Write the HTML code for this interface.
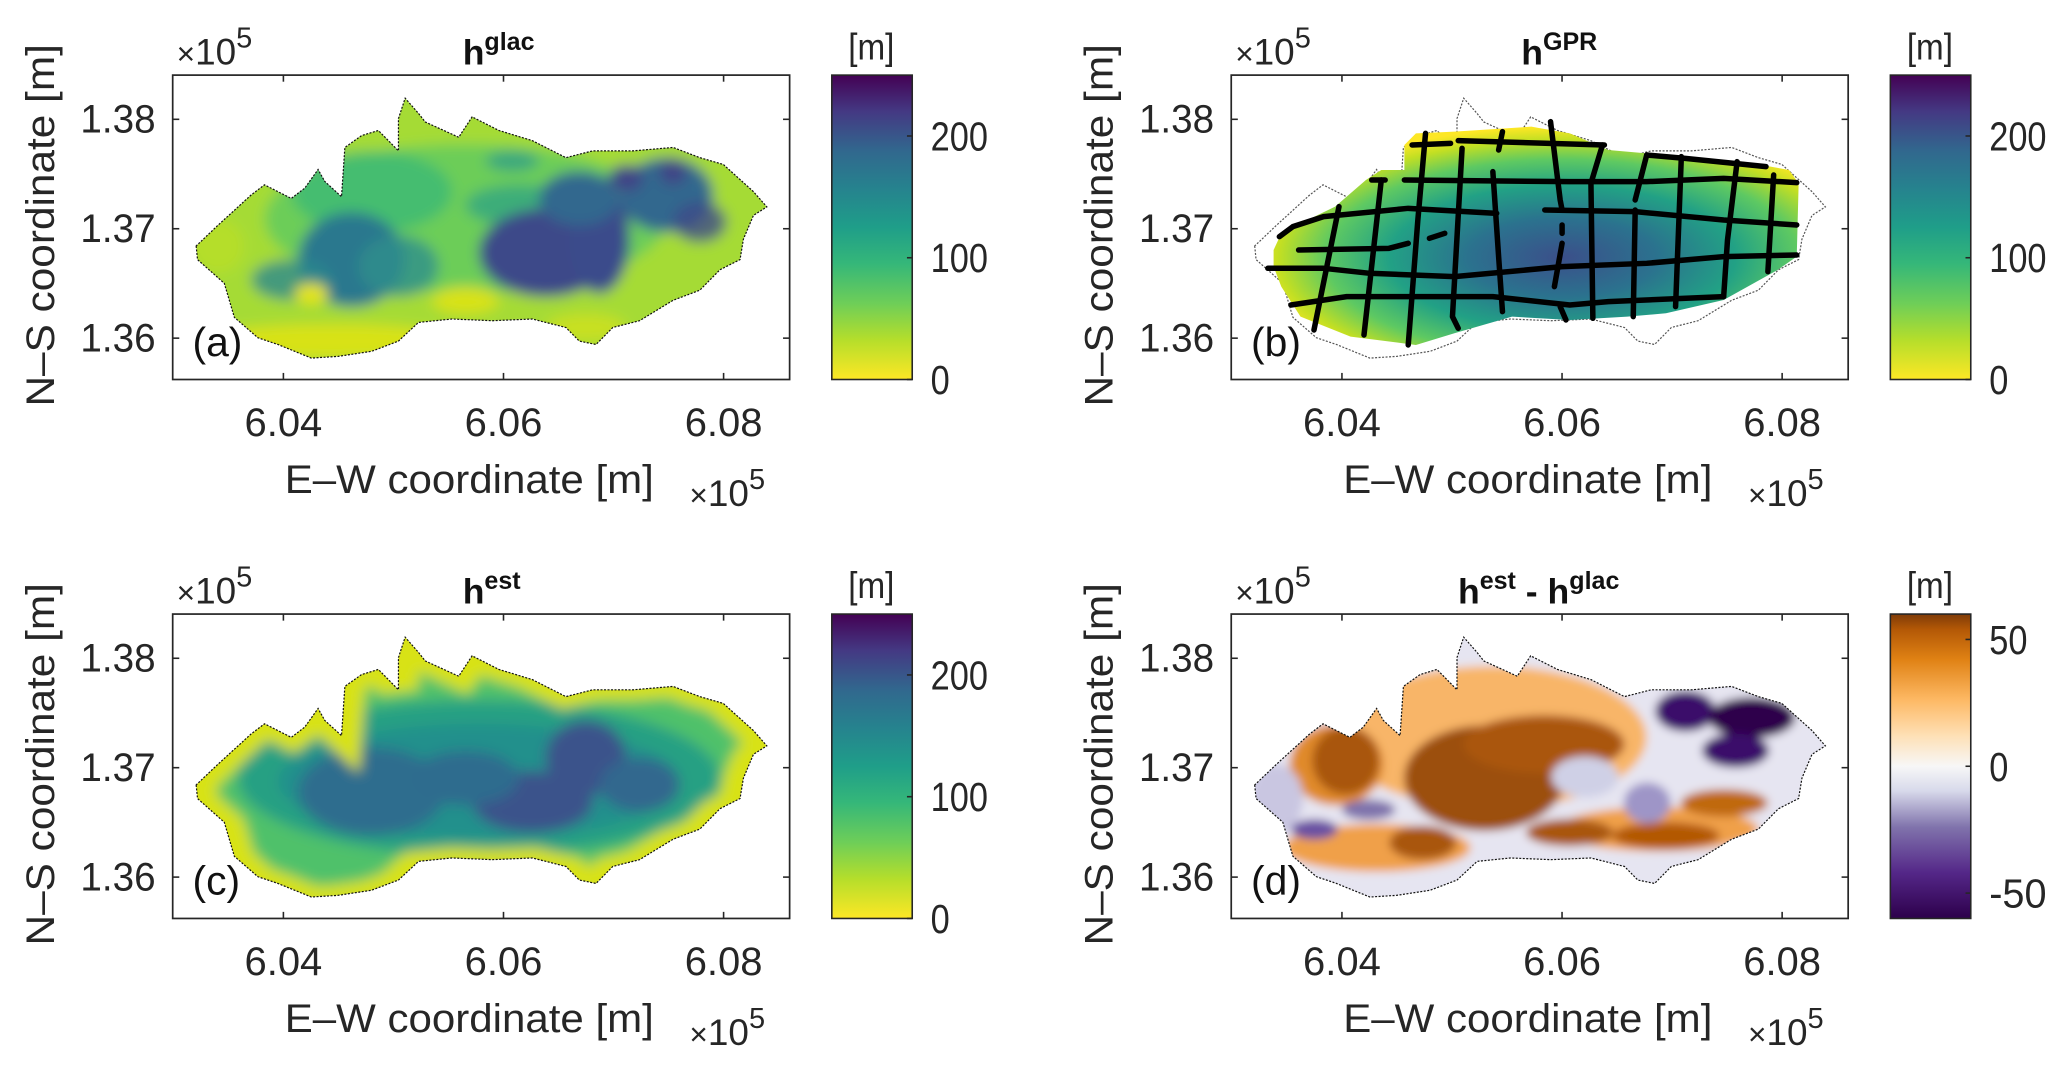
<!DOCTYPE html>
<html><head><meta charset="utf-8"><style>
html,body{margin:0;padding:0;background:#fff;}
svg{display:block;font-family:"Liberation Sans",Arial,sans-serif;}
</style></head><body>
<svg id="fig" width="2067" height="1070" viewBox="0 0 1568 812" preserveAspectRatio="none" xmlns="http://www.w3.org/2000/svg">
<defs>
<linearGradient id="viridis" x1="0" y1="1" x2="0" y2="0">
<stop offset="0" stop-color="#fde725"/><stop offset="0.13" stop-color="#b5de2b"/><stop offset="0.25" stop-color="#6ece58"/><stop offset="0.38" stop-color="#35b779"/><stop offset="0.5" stop-color="#1f9e89"/><stop offset="0.63" stop-color="#26828e"/><stop offset="0.75" stop-color="#31688e"/><stop offset="0.88" stop-color="#443983"/><stop offset="1" stop-color="#440154"/>
</linearGradient>
<linearGradient id="puor" x1="0" y1="1" x2="0" y2="0">
<stop offset="0" stop-color="#2d004b"/><stop offset="0.15" stop-color="#542788"/><stop offset="0.3" stop-color="#8073ac"/><stop offset="0.42" stop-color="#d8daeb"/><stop offset="0.5" stop-color="#f7f7f7"/><stop offset="0.6" stop-color="#fee0b6"/><stop offset="0.72" stop-color="#fdb863"/><stop offset="0.85" stop-color="#e08214"/><stop offset="0.95" stop-color="#b35806"/><stop offset="1" stop-color="#7f3b08"/>
</linearGradient>
<radialGradient id="gprgrad" cx="0.55" cy="0.6" r="0.6">
<stop offset="0" stop-color="#3b4f8a"/><stop offset="0.3" stop-color="#2b728e"/><stop offset="0.55" stop-color="#22a185"/><stop offset="0.75" stop-color="#5ec962"/><stop offset="0.9" stop-color="#c2df23"/><stop offset="1" stop-color="#fde725"/>
</radialGradient>
<filter id="blur" x="-10%" y="-10%" width="120%" height="120%"><feGaussianBlur stdDeviation="5"/></filter>
<filter id="blur2" x="-10%" y="-10%" width="120%" height="120%"><feGaussianBlur stdDeviation="3.5"/></filter>
</defs>
<g id="root"></g>
</svg>
<script>
// axis data
const xTicks = [6.04, 6.06, 6.08];
const xTickLabels = ["6.04", "6.06", "6.08"];
const yTicks = [1.36, 1.37, 1.38];
const yTickLabels = ["1.36", "1.37", "1.38"];
const xLim = [6.02994, 6.0860];
const yLim = [1.35622, 1.38404];
const cbViridisTicks = [0, 100, 200];
const cbViridisLim = [0, 250];
const cbDiffTicks = [-50, 0, 50];
const cbDiffLim = [-60, 60];
const panelTitles = [["h","glac"],["h","GPR"],["h","est"],["h","est - h","glac"]];
const panelLetters = ["(a)","(b)","(c)","(d)"];

const NS = "http://www.w3.org/2000/svg";
const root = document.getElementById("root");
function mk(tag, attrs, parent){ const e=document.createElementNS(NS,tag); for(const k in attrs) e.setAttribute(k,attrs[k]); (parent||root).appendChild(e); return e; }

const FX0=131, FX1=599, FY0=57, FY1=288;
const DX=803, DY=409;

// glacier outline in trace coordinates
const outlinePts = [[298,720],[300,760],[340,830],[355,930],[390,990],[420,1010],[470,1050],[510,1045],[560,1030],[600,1000],[630,945],[680,935],[740,940],[800,935],[850,960],[870,1000],[895,1010],[920,960],[960,940],[1010,880],[1050,850],[1080,790],[1110,760],[1115,700],[1130,630],[1150,605],[1130,560],[1085,480],[1050,460],[1010,430],[950,440],[890,440],[850,460],[800,410],[750,380],[710,340],[690,400],[640,355],[630,330],[610,285],[600,345],[600,440],[570,380],[545,395],[520,430],[515,575],[490,530],[480,495],[460,550],[440,580],[400,540],[380,570],[330,660]];
const outlineD = "M"+outlinePts.map(p=>p.join(",")).join(" L")+" Z";
const TR = "translate(-2.6,1.05) scale(0.5081,0.2578)";

function txt(parent, attrs, content, name){
  const t = mk("text", attrs, parent);
  t.innerHTML = content;
  
  
  return t;
}

function panel(i){
  const ox = (i%2)*DX, oy = Math.floor(i/2)*DY;
  const sx = v => ox + FX0 + (v-xLim[0])/(xLim[1]-xLim[0])*(FX1-FX0);
  const sy = v => oy + FY1 - (v-yLim[0])/(yLim[1]-yLim[0])*(FY1-FY0);
  const g = mk("g",{});
  
  

  const cp = mk("clipPath",{id:"clip"+i}, g);
  mk("path",{d:outlineD, transform:`translate(${ox},${oy}) ${TR}`}, cp);

  const map = mk("g",{"clip-path":`url(#clip${i})`}, g);
  
  
  const inner = mk("g",{filter: i==1?"":(i==3?"url(#blur2)":"url(#blur)")}, map);
  const t = mk("g",{transform:`translate(${ox},${oy}) ${TR}`}, inner);
  const ell=(cx,cy,rx,ry,fill,op)=>mk("ellipse",{cx,cy,rx,ry,fill,"fill-opacity":op==null?1:op},t);
  if(i==0){
    mk("rect",{x:250,y:250,width:950,height:850,fill:"#a5db36"},t);
    ell(700,640,300,220,"#5ec962",0.8);
    ell(560,560,120,120,"#35b779",0.7);
    ell(530,760,80,140,"#2a788e");
    ell(440,820,60,60,"#2c8a8d",0.8);
    ell(600,780,60,90,"#2f8f8c",0.8);
    ell(780,600,80,60,"#2aa087",0.7);
    ell(820,740,100,130,"#3e4a89");
    ell(900,700,45,160,"#3b4c8b");
    ell(870,580,60,80,"#31688e");
    ell(1000,570,70,110,"#31688e");
    ell(940,520,25,40,"#414487");
    ell(1010,500,20,40,"#414487");
    ell(770,470,40,30,"#2f9e88",0.8);
    ell(1050,650,40,60,"#3e4a89",0.8);
    ell(700,880,50,40,"#d8e219");
    ell(470,860,25,30,"#e5e419");
    ell(500,1000,200,50,"#d8e219");
    ell(880,960,60,40,"#c8e020");
    ell(330,720,40,80,"#b5de2b");
  } else if(i==1){
    mk("path",{d:outlineD, fill:"none"},t);
  } else if(i==2){
    mk("rect",{x:250,y:250,width:950,height:850,fill:"#4fc16b"},t);
    ell(720,700,360,230,"#27a083");
    ell(720,710,300,170,"#22908c");
    ell(560,740,110,130,"#2e6d8e");
    ell(880,640,60,110,"#3b528b");
    ell(800,770,90,90,"#3b528b");
    ell(700,700,80,80,"#2f6c8e");
    ell(960,720,60,80,"#31688e");
    mk("path",{d:outlineD, fill:"none", stroke:"#d8e219", "stroke-width":60},t);
  } else {
    mk("rect",{x:250,y:250,width:950,height:850,fill:"#e6e5f1"},t);
    ell(653,580,230,210,"#f8b567");
    ell(480,905,140,70,"#f0a048");
    ell(900,850,150,65,"#f0a048");
    ell(420,660,70,120,"#e08a2a");
    ell(641,700,120,155,"#9c4f0a");
    ell(730,600,120,85,"#aa560b");
    ell(434,648,50,100,"#a9560b");
    ell(549,890,50,50,"#a9560b");
    ell(768,860,65,40,"#a9560b");
    ell(912,870,80,40,"#b35806");
    ell(999,773,65,40,"#c0690f");
    ell(791,696,50,60,"#cfd0e6");
    ell(884,773,35,60,"#9e95c7");
    ell(387,851,35,30,"#6a51a3");
    ell(468,793,40,30,"#8073ac");
    ell(941,503,45,60,"#3a0f6b");
    ell(1040,522,65,60,"#2d004b");
    ell(1016,619,50,50,"#3a0f6b");
    ell(330,760,40,100,"#c9c6e1");
  }

  const ol = mk("path",{d:outlineD, fill:"none", stroke: i==1?"#555":"#111", "stroke-width":1.2, "stroke-dasharray":"2,1.5", "vector-effect":"non-scaling-stroke", transform:`translate(${ox},${oy}) ${TR}`}, g);
  
  

  if(i==1) gpr(g, ox, oy);

  const fr = mk("rect",{x:ox+FX0,y:oy+FY0,width:FX1-FX0,height:FY1-FY0,fill:"none",stroke:"#262626","stroke-width":1.3},g);
  
  
  xTicks.forEach((v,k)=>{
    const x=sx(v);
    mk("line",{x1:x,y1:oy+FY1,x2:x,y2:oy+FY1-5,stroke:"#262626","stroke-width":1.2},g);
    mk("line",{x1:x,y1:oy+FY0,x2:x,y2:oy+FY0+5,stroke:"#262626","stroke-width":1.2},g);
    txt(g,{x:x,y:oy+331,"text-anchor":"middle","font-size":30,fill:"#262626",textLength:59,lengthAdjust:"spacingAndGlyphs"},xTickLabels[k],'x-tick-label');
  });
  yTicks.forEach((v,k)=>{
    const y=sy(v);
    mk("line",{x1:ox+FX0,y1:y,x2:ox+FX0+5,y2:y,stroke:"#262626","stroke-width":1.2},g);
    mk("line",{x1:ox+FX1,y1:y,x2:ox+FX1-5,y2:y,stroke:"#262626","stroke-width":1.2},g);
    txt(g,{x:ox+61,y:y+10,"font-size":30,fill:"#262626",textLength:57,lengthAdjust:"spacingAndGlyphs"},yTickLabels[k],'y-tick-label');
  });
  txt(g,{x:ox+134,y:oy+49,"font-size":28,fill:"#262626"},'<tspan font-size="24">×</tspan>10<tspan dy="-13" font-size="22">5</tspan>','y-exponent-label');
  txt(g,{x:ox+523,y:oy+384,"font-size":28,fill:"#262626"},'<tspan font-size="24">×</tspan>10<tspan dy="-13" font-size="22">5</tspan>','x-exponent-label');
  txt(g,{x:ox+356,y:oy+374,"text-anchor":"middle","font-size":30,fill:"#262626",textLength:280,lengthAdjust:"spacingAndGlyphs"},"E–W coordinate [m]",'x-axis-title');
  txt(g,{x:0,y:0,"text-anchor":"middle","font-size":30,fill:"#262626",textLength:275,lengthAdjust:"spacingAndGlyphs",transform:`translate(${ox+41},${oy+171}) rotate(-90)`},"N–S coordinate [m]",'y-axis-title');
  const tt = panelTitles[i];
  let html = tt[0]+'<tspan dy="-11" font-size="19">'+tt[1]+'</tspan>';
  if(tt.length>2) html = tt[0]+'<tspan dy="-11" font-size="19">est</tspan><tspan dy="11"> - h</tspan><tspan dy="-11" font-size="19">'+tt[2]+'</tspan>';
  txt(g,{x:ox+(i==3?303:351),y:oy+49,"font-size":27,"font-weight":"bold",fill:"#111"},html,'panel-title');
  txt(g,{x:ox+146,y:oy+270,"font-size":31,fill:"#111"},panelLetters[i],'panel-letter');

  const diff = i==3;
  const cx0=ox+631, cw=61;
  const lim = diff?cbDiffLim:cbViridisLim, ticks = diff?cbDiffTicks:cbViridisTicks;
  const cy = v => oy + FY1 - (v-lim[0])/(lim[1]-lim[0])*(FY1-FY0);
  const cb = mk("rect",{x:cx0,y:oy+FY0,width:cw,height:FY1-FY0,fill:diff?"url(#puor)":"url(#viridis)",stroke:"#262626","stroke-width":1.2},g);
  
  
  ticks.forEach(v=>{
    const y=cy(v);
    mk("line",{x1:cx0+cw,y1:y,x2:cx0+cw-4,y2:y,stroke:"#262626","stroke-width":1.2},g);
    const s = String(v);
    const w = s.length*14.5;
    txt(g,{x:cx0+75,y:y+11,"font-size":31,fill:"#262626",textLength:w,lengthAdjust:"spacingAndGlyphs"},s,'colorbar-tick-label');
  });
  txt(g,{x:cx0+30,y:oy+45,"text-anchor":"middle","font-size":28,fill:"#262626",textLength:35,lengthAdjust:"spacingAndGlyphs"},"[m]",'colorbar-unit');
}

// GPR survey profiles (trace coordinates)
const gprArea = [[130,450],[150,400],[200,370],[290,320],[370,240],[410,210],[470,210],[470,135],[500,100],[600,95],[800,80],[900,100],[1000,150],[1100,160],[1350,185],[1470,210],[1495,250],[1490,470],[1440,510],[1300,600],[1150,640],[1050,650],[900,660],[750,650],[600,700],[500,735],[330,710],[200,650],[150,560],[130,500]];
const gprLines = [
 [[490,135],[590,130]],[[610,122],[990,135]],
 [[385,240],[420,240]],[[470,240],[900,245],[1100,245],[1300,235],[1490,248]],
 [[1100,165],[1200,175],[1410,200]],
 [[145,410],[180,380],[260,350],[480,325],[710,340]],[[835,330],[1070,335],[1300,360],[1490,375]],
 [[195,450],[430,445],[480,430]],[[535,415],[575,400]],
 [[115,505],[260,505],[380,520],[600,530],[880,500],[1100,490],[1300,470],[1490,465]],
 [[175,615],[320,590],[700,590],[900,615],[1000,605],[1300,590]],
 [[300,320],[235,690]],[[410,240],[365,705]],[[525,100],[505,360],[480,735]],
 [[620,145],[595,650],[610,685]],[[725,95],[715,150]],[[700,215],[715,470],[725,635]],
 [[850,65],[875,300],[880,330]],[[880,375],[880,400]],[[880,430],[860,560]],[[875,620],[890,660]],
 [[985,135],[955,250],[960,655]],[[1100,165],[1070,300]],[[1070,330],[1065,650]],
 [[1190,170],[1180,470],[1175,620]],[[1335,185],[1310,420],[1300,590]],[[1430,225],[1415,515]]
];
function gpr(g, ox, oy){
  const t = mk("g",{transform:"translate(928.2,75.9) scale(0.2918,0.2529)"}, g);
  const a = mk("path",{d:"M"+gprArea.map(p=>p.join(",")).join(" L")+" Z", fill:"url(#gprgrad)"}, t);
  
  
  gprLines.forEach(l=>{
    const p = mk("polyline",{points:l.map(q=>q.join(",")).join(" "),fill:"none",stroke:"#000","stroke-width":5.5,"stroke-linecap":"round","stroke-linejoin":"round","vector-effect":"non-scaling-stroke"}, t);
    
    
  });
}

for(let i=0;i<4;i++) panel(i);
</script>
</body></html>
